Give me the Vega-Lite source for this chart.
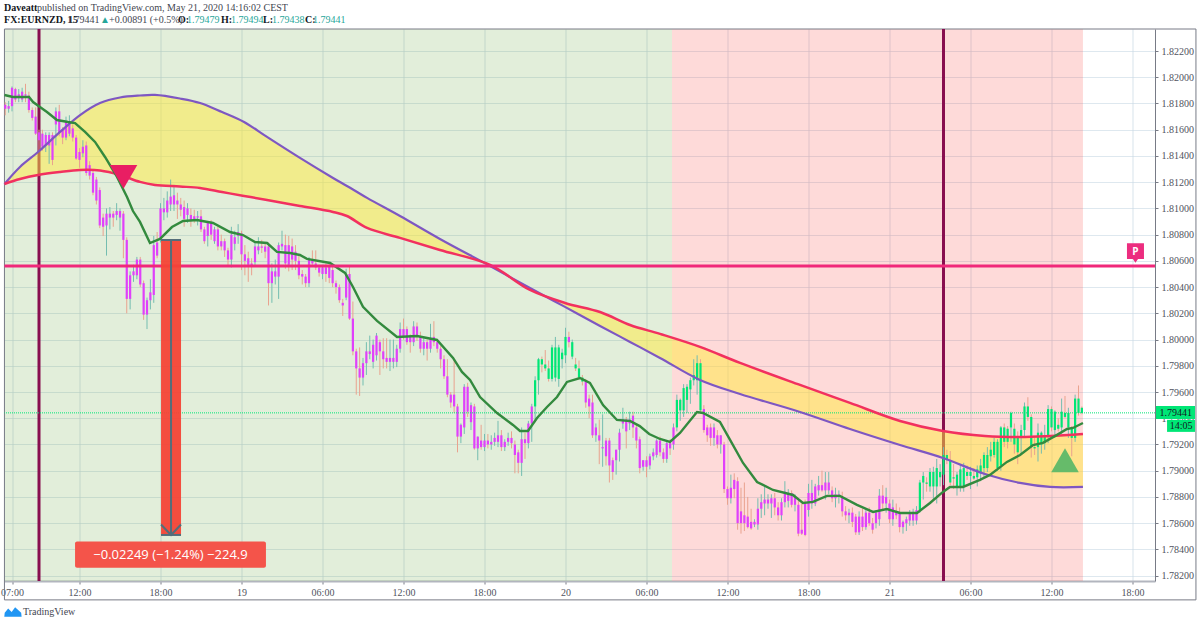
{"$schema":"https://vega.github.io/schema/vega-lite/v6.json","width":1150.5,"height":552,"autosize":{"type":"none"},"padding":{"left":4.5,"top":29,"right":45,"bottom":44},"background":"white","resolve":{"axis":{"x":"independent","y":"independent"}},"config":{"view":{"stroke":null},"text":{"font":"Liberation Sans Narrow"},"axis":{"labelFont":"Liberation Sans Narrow","labelFontSize":10,"labelColor":"#50535e","tickColor":"#787b86","title":null,"gridColor":"#c8d8e4","gridOpacity":0.6,"gridWidth":1.2}},"datasets":{"zones":[{"a":6.44,"b":55.89,"zone":"long"},{"a":55.89,"b":86.33,"zone":"short"}],"marks":[{"t":9},{"t":76}],"band":[{"t":6.44,"red":1.81186,"purple":1.81186},{"t":7.59,"red":1.81224,"purple":1.81316},{"t":8.93,"red":1.81255,"purple":1.8143},{"t":10.56,"red":1.81278,"purple":1.81583},{"t":12.04,"red":1.81293,"purple":1.81712},{"t":13.52,"red":1.81289,"purple":1.81804},{"t":15,"red":1.81255,"purple":1.81846},{"t":16.48,"red":1.81202,"purple":1.81861},{"t":17.59,"red":1.81179,"purple":1.81865},{"t":19.44,"red":1.81167,"purple":1.81838},{"t":20.93,"red":1.81156,"purple":1.81804},{"t":22.56,"red":1.81125,"purple":1.81735},{"t":24.19,"red":1.81095,"purple":1.81659},{"t":25.89,"red":1.81064,"purple":1.81545},{"t":28.33,"red":1.81019,"purple":1.81385},{"t":30.78,"red":1.80973,"purple":1.81232},{"t":31.81,"red":1.80942,"purple":1.81171},{"t":33.3,"red":1.80851,"purple":1.8108},{"t":35.74,"red":1.80775,"purple":1.80942},{"t":38.7,"red":1.80683,"purple":1.80767},{"t":42.41,"red":1.80569,"purple":1.80561},{"t":45.37,"red":1.80378,"purple":1.80393},{"t":47.96,"red":1.80279,"purple":1.80249},{"t":50.56,"red":1.8021,"purple":1.80104},{"t":52.78,"red":1.80111,"purple":1.79982},{"t":55,"red":1.80043,"purple":1.7986},{"t":57.96,"red":1.79944,"purple":1.79692},{"t":60.93,"red":1.79822,"purple":1.79585},{"t":65.37,"red":1.79654,"purple":1.79448},{"t":69.07,"red":1.79517,"purple":1.79318},{"t":72.78,"red":1.79379,"purple":1.79196},{"t":75.96,"red":1.79303,"purple":1.79097},{"t":79.07,"red":1.79265,"purple":1.78975},{"t":81.67,"red":1.79257,"purple":1.78907},{"t":83.89,"red":1.79265,"purple":1.78876},{"t":86.33,"red":1.7928,"purple":1.78876}],"ema":[{"t":6.44,"v":1.81865},{"t":7.07,"v":1.8185},{"t":8.26,"v":1.8185},{"t":8.56,"v":1.81811},{"t":9.07,"v":1.81773},{"t":9.59,"v":1.81735},{"t":10.33,"v":1.81674},{"t":11.15,"v":1.81659},{"t":11.67,"v":1.81651},{"t":12.41,"v":1.81583},{"t":13.15,"v":1.81507},{"t":13.89,"v":1.81392},{"t":14.78,"v":1.8124},{"t":15.52,"v":1.81087},{"t":15.96,"v":1.8098},{"t":16.48,"v":1.80897},{"t":17.22,"v":1.80736},{"t":17.96,"v":1.80767},{"t":18.85,"v":1.80858},{"t":19.67,"v":1.80904},{"t":20.7,"v":1.80912},{"t":21.89,"v":1.80889},{"t":23.15,"v":1.8082},{"t":24.11,"v":1.80797},{"t":25,"v":1.80744},{"t":25.89,"v":1.80736},{"t":26.63,"v":1.80668},{"t":27.59,"v":1.8066},{"t":28.33,"v":1.80645},{"t":28.85,"v":1.80615},{"t":30.56,"v":1.80584},{"t":31.67,"v":1.80508},{"t":32.26,"v":1.80401},{"t":33,"v":1.80249},{"t":34.04,"v":1.80142},{"t":35.52,"v":1.8002},{"t":37,"v":1.80027},{"t":38.48,"v":1.79997},{"t":39.67,"v":1.7986},{"t":40.33,"v":1.79753},{"t":40.93,"v":1.79692},{"t":41.67,"v":1.79562},{"t":42.93,"v":1.7944},{"t":44.11,"v":1.79349},{"t":44.63,"v":1.79303},{"t":45.22,"v":1.79303},{"t":45.89,"v":1.79402},{"t":46.63,"v":1.79486},{"t":47.37,"v":1.79562},{"t":48.11,"v":1.79677},{"t":49.07,"v":1.79707},{"t":49.81,"v":1.79669},{"t":50.78,"v":1.79501},{"t":51.81,"v":1.79387},{"t":52.78,"v":1.79379},{"t":53.5,"v":1.7934},{"t":54.2,"v":1.7928},{"t":55,"v":1.79242},{"t":55.74,"v":1.79219},{"t":56.48,"v":1.79288},{"t":57.74,"v":1.79448},{"t":58.19,"v":1.7944},{"t":59.44,"v":1.79372},{"t":60.19,"v":1.79235},{"t":61.15,"v":1.79059},{"t":62.19,"v":1.78914},{"t":63.37,"v":1.78853},{"t":64.85,"v":1.78815},{"t":65.59,"v":1.78754},{"t":66.33,"v":1.78762},{"t":67.37,"v":1.78808},{"t":68.33,"v":1.78808},{"t":69.59,"v":1.78739},{"t":70.78,"v":1.78686},{"t":71.81,"v":1.78708},{"t":72.78,"v":1.78678},{"t":74.04,"v":1.78678},{"t":75,"v":1.78754},{"t":75.96,"v":1.78838},{"t":76.48,"v":1.78876},{"t":77.44,"v":1.78876},{"t":78.7,"v":1.7893},{"t":79.44,"v":1.78968},{"t":80.7,"v":1.79067},{"t":81.67,"v":1.7912},{"t":82.63,"v":1.79196},{"t":83.37,"v":1.79212},{"t":84.41,"v":1.79273},{"t":85.15,"v":1.79318},{"t":85.59,"v":1.79326},{"t":86.33,"v":1.79364}],"candles":[{"t":6.5,"o":1.8179,"h":1.8181,"l":1.8171,"c":1.8176,"s":"D"},{"t":6.75,"o":1.8176,"h":1.8182,"l":1.8173,"c":1.8178,"s":"D"},{"t":7,"o":1.8178,"h":1.8193,"l":1.8174,"c":1.8192,"s":"D"},{"t":7.25,"o":1.8191,"h":1.8192,"l":1.8181,"c":1.8183,"s":"D"},{"t":7.5,"o":1.8184,"h":1.8191,"l":1.8181,"c":1.8187,"s":"D"},{"t":7.75,"o":1.8183,"h":1.8192,"l":1.8181,"c":1.8189,"s":"D"},{"t":8,"o":1.8187,"h":1.8195,"l":1.8181,"c":1.8186,"s":"D"},{"t":8.25,"o":1.8186,"h":1.8189,"l":1.8173,"c":1.8175,"s":"D"},{"t":8.5,"o":1.8175,"h":1.8177,"l":1.8167,"c":1.8169,"s":"D"},{"t":8.75,"o":1.817,"h":1.8177,"l":1.8156,"c":1.8157,"s":"D"},{"t":9,"o":1.8158,"h":1.816,"l":1.8143,"c":1.8152,"s":"D"},{"t":9.25,"o":1.8157,"h":1.816,"l":1.8144,"c":1.8147,"s":"D"},{"t":9.5,"o":1.8148,"h":1.8158,"l":1.8143,"c":1.8156,"s":"D"},{"t":9.75,"o":1.8148,"h":1.8158,"l":1.8134,"c":1.8156,"s":"D"},{"t":10,"o":1.8156,"h":1.8158,"l":1.8133,"c":1.8137,"s":"D"},{"t":10.25,"o":1.8164,"h":1.8177,"l":1.8148,"c":1.8174,"s":"D"},{"t":10.5,"o":1.8174,"h":1.8179,"l":1.8155,"c":1.8158,"s":"D"},{"t":10.75,"o":1.816,"h":1.8162,"l":1.8149,"c":1.8154,"s":"D"},{"t":11,"o":1.8154,"h":1.817,"l":1.8152,"c":1.8166,"s":"D"},{"t":11.25,"o":1.8157,"h":1.8171,"l":1.8155,"c":1.8166,"s":"D"},{"t":11.5,"o":1.8161,"h":1.8164,"l":1.8151,"c":1.8154,"s":"D"},{"t":11.75,"o":1.8154,"h":1.8156,"l":1.8137,"c":1.8138,"s":"D"},{"t":12,"o":1.8143,"h":1.8146,"l":1.8131,"c":1.8137,"s":"D"},{"t":12.25,"o":1.8142,"h":1.8152,"l":1.8139,"c":1.8147,"s":"D"},{"t":12.5,"o":1.8148,"h":1.8151,"l":1.8125,"c":1.8127,"s":"D"},{"t":12.75,"o":1.8133,"h":1.8136,"l":1.8122,"c":1.8125,"s":"D"},{"t":13,"o":1.8127,"h":1.813,"l":1.811,"c":1.8112,"s":"D"},{"t":13.25,"o":1.8122,"h":1.8124,"l":1.8103,"c":1.8106,"s":"D"},{"t":13.5,"o":1.8114,"h":1.8116,"l":1.8085,"c":1.8087,"s":"D"},{"t":13.75,"o":1.8093,"h":1.8096,"l":1.8079,"c":1.8086,"s":"D"},{"t":14,"o":1.8087,"h":1.81,"l":1.8064,"c":1.8096,"s":"D"},{"t":14.25,"o":1.8093,"h":1.8101,"l":1.8084,"c":1.8096,"s":"D"},{"t":14.5,"o":1.8096,"h":1.8098,"l":1.8086,"c":1.8093,"s":"D"},{"t":14.75,"o":1.8095,"h":1.8104,"l":1.8091,"c":1.8098,"s":"D"},{"t":15,"o":1.8093,"h":1.81,"l":1.8083,"c":1.8098,"s":"D"},{"t":15.25,"o":1.8096,"h":1.8098,"l":1.8062,"c":1.8076,"s":"D"},{"t":15.5,"o":1.8076,"h":1.8078,"l":1.802,"c":1.8031,"s":"D"},{"t":15.75,"o":1.8031,"h":1.8052,"l":1.8023,"c":1.8049,"s":"D"},{"t":16,"o":1.8049,"h":1.8057,"l":1.8044,"c":1.8052,"s":"D"},{"t":16.25,"o":1.8049,"h":1.8063,"l":1.8046,"c":1.8061,"s":"D"},{"t":16.5,"o":1.8061,"h":1.8063,"l":1.804,"c":1.8042,"s":"D"},{"t":16.75,"o":1.8043,"h":1.8045,"l":1.8015,"c":1.8019,"s":"D"},{"t":17,"o":1.8019,"h":1.8032,"l":1.8008,"c":1.803,"s":"D"},{"t":17.25,"o":1.803,"h":1.8046,"l":1.8023,"c":1.8036,"s":"D"},{"t":17.5,"o":1.8034,"h":1.8079,"l":1.8028,"c":1.8072,"s":"D"},{"t":17.75,"o":1.8074,"h":1.8082,"l":1.8062,"c":1.8064,"s":"D"},{"t":18,"o":1.8076,"h":1.8104,"l":1.8074,"c":1.81,"s":"D"},{"t":18.25,"o":1.8097,"h":1.8108,"l":1.8091,"c":1.81,"s":"D"},{"t":18.5,"o":1.8097,"h":1.8113,"l":1.8093,"c":1.8106,"s":"D"},{"t":18.75,"o":1.8103,"h":1.8122,"l":1.8098,"c":1.8109,"s":"D"},{"t":19,"o":1.8103,"h":1.8118,"l":1.8098,"c":1.811,"s":"D"},{"t":19.25,"o":1.8106,"h":1.8112,"l":1.8092,"c":1.8103,"s":"D"},{"t":19.5,"o":1.8103,"h":1.8108,"l":1.8094,"c":1.8099,"s":"D"},{"t":19.75,"o":1.8101,"h":1.8106,"l":1.8086,"c":1.8092,"s":"D"},{"t":20,"o":1.8095,"h":1.8104,"l":1.8089,"c":1.81,"s":"D"},{"t":20.25,"o":1.8095,"h":1.81,"l":1.8086,"c":1.8091,"s":"D"},{"t":20.5,"o":1.8094,"h":1.8099,"l":1.8089,"c":1.8091,"s":"D"},{"t":20.75,"o":1.8093,"h":1.8098,"l":1.8087,"c":1.8094,"s":"D"},{"t":21,"o":1.8094,"h":1.8099,"l":1.8082,"c":1.8084,"s":"D"},{"t":21.25,"o":1.8084,"h":1.8086,"l":1.8073,"c":1.8075,"s":"D"},{"t":21.5,"o":1.8079,"h":1.809,"l":1.8071,"c":1.8089,"s":"D"},{"t":21.75,"o":1.8089,"h":1.8091,"l":1.8076,"c":1.808,"s":"D"},{"t":22,"o":1.8075,"h":1.8086,"l":1.8073,"c":1.8084,"s":"D"},{"t":22.25,"o":1.8084,"h":1.8086,"l":1.8068,"c":1.8071,"s":"D"},{"t":22.5,"o":1.8075,"h":1.808,"l":1.8068,"c":1.8071,"s":"D"},{"t":22.75,"o":1.8075,"h":1.8077,"l":1.8063,"c":1.8068,"s":"D"},{"t":23,"o":1.8068,"h":1.807,"l":1.8056,"c":1.8061,"s":"D"},{"t":23.25,"o":1.8061,"h":1.8086,"l":1.8055,"c":1.808,"s":"D"},{"t":23.5,"o":1.8073,"h":1.8083,"l":1.8068,"c":1.8078,"s":"D"},{"t":23.75,"o":1.8079,"h":1.8088,"l":1.8073,"c":1.8082,"s":"D"},{"t":24,"o":1.8081,"h":1.8083,"l":1.8053,"c":1.8065,"s":"D"},{"t":24.25,"o":1.8065,"h":1.8072,"l":1.8049,"c":1.806,"s":"D"},{"t":24.5,"o":1.8062,"h":1.8067,"l":1.8044,"c":1.8057,"s":"D"},{"t":24.75,"o":1.8058,"h":1.8062,"l":1.8049,"c":1.8056,"s":"D"},{"t":25,"o":1.8059,"h":1.8075,"l":1.8056,"c":1.8071,"s":"D"},{"t":25.25,"o":1.8068,"h":1.8078,"l":1.8065,"c":1.8071,"s":"D"},{"t":25.5,"o":1.8071,"h":1.8076,"l":1.8066,"c":1.807,"s":"D"},{"t":25.75,"o":1.8071,"h":1.8074,"l":1.8062,"c":1.8067,"s":"D"},{"t":26,"o":1.8071,"h":1.8074,"l":1.8026,"c":1.8043,"s":"D"},{"t":26.25,"o":1.8043,"h":1.8058,"l":1.8028,"c":1.8052,"s":"D"},{"t":26.5,"o":1.8048,"h":1.8061,"l":1.8042,"c":1.8052,"s":"D"},{"t":26.75,"o":1.8048,"h":1.8074,"l":1.8031,"c":1.8072,"s":"D"},{"t":27,"o":1.8071,"h":1.8083,"l":1.8068,"c":1.8073,"s":"D"},{"t":27.25,"o":1.8072,"h":1.808,"l":1.8054,"c":1.8058,"s":"D"},{"t":27.5,"o":1.8072,"h":1.8079,"l":1.8052,"c":1.8057,"s":"D"},{"t":27.75,"o":1.8071,"h":1.8077,"l":1.8053,"c":1.8061,"s":"D"},{"t":28,"o":1.8067,"h":1.8072,"l":1.8053,"c":1.806,"s":"D"},{"t":28.25,"o":1.806,"h":1.8064,"l":1.8046,"c":1.8049,"s":"D"},{"t":28.5,"o":1.805,"h":1.8053,"l":1.8042,"c":1.8048,"s":"D"},{"t":28.75,"o":1.8048,"h":1.805,"l":1.804,"c":1.8043,"s":"D"},{"t":29,"o":1.8043,"h":1.8063,"l":1.804,"c":1.8061,"s":"D"},{"t":29.25,"o":1.8061,"h":1.8068,"l":1.8057,"c":1.8058,"s":"D"},{"t":29.5,"o":1.8058,"h":1.8068,"l":1.8053,"c":1.8055,"s":"D"},{"t":29.75,"o":1.8055,"h":1.8057,"l":1.8048,"c":1.8051,"s":"D"},{"t":30,"o":1.805,"h":1.8056,"l":1.8046,"c":1.8055,"s":"D"},{"t":30.25,"o":1.8055,"h":1.8058,"l":1.8044,"c":1.805,"s":"D"},{"t":30.5,"o":1.8056,"h":1.8059,"l":1.8043,"c":1.8047,"s":"D"},{"t":30.75,"o":1.8053,"h":1.8057,"l":1.804,"c":1.8043,"s":"D"},{"t":31,"o":1.8043,"h":1.8045,"l":1.8035,"c":1.804,"s":"D"},{"t":31.25,"o":1.804,"h":1.8042,"l":1.8028,"c":1.803,"s":"D"},{"t":31.5,"o":1.8028,"h":1.8031,"l":1.8018,"c":1.8026,"s":"D"},{"t":31.75,"o":1.8032,"h":1.8054,"l":1.803,"c":1.805,"s":"D"},{"t":32,"o":1.805,"h":1.8056,"l":1.8015,"c":1.8016,"s":"D"},{"t":32.25,"o":1.8016,"h":1.8029,"l":1.7988,"c":1.7991,"s":"D"},{"t":32.5,"o":1.7991,"h":1.7993,"l":1.7958,"c":1.7978,"s":"D"},{"t":32.75,"o":1.7978,"h":1.7994,"l":1.7957,"c":1.7971,"s":"D"},{"t":33,"o":1.7971,"h":1.7986,"l":1.7965,"c":1.7982,"s":"D"},{"t":33.25,"o":1.7982,"h":1.7998,"l":1.7973,"c":1.7991,"s":"D"},{"t":33.5,"o":1.7989,"h":1.8003,"l":1.7985,"c":1.7991,"s":"D"},{"t":33.75,"o":1.7983,"h":1.8,"l":1.7978,"c":1.7996,"s":"D"},{"t":34,"o":1.7988,"h":1.8005,"l":1.7984,"c":1.8003,"s":"D"},{"t":34.25,"o":1.7998,"h":1.8,"l":1.7973,"c":1.7991,"s":"D"},{"t":34.5,"o":1.7991,"h":1.8001,"l":1.7978,"c":1.7985,"s":"D"},{"t":34.75,"o":1.7986,"h":1.8001,"l":1.7978,"c":1.7983,"s":"D"},{"t":35,"o":1.7983,"h":1.8,"l":1.7976,"c":1.7986,"s":"D"},{"t":35.25,"o":1.7983,"h":1.8,"l":1.7978,"c":1.7986,"s":"D"},{"t":35.5,"o":1.7983,"h":1.7996,"l":1.7979,"c":1.7993,"s":"D"},{"t":35.75,"o":1.7993,"h":1.8013,"l":1.799,"c":1.8008,"s":"D"},{"t":36,"o":1.8008,"h":1.8016,"l":1.8,"c":1.8002,"s":"D"},{"t":36.25,"o":1.8008,"h":1.801,"l":1.7996,"c":1.7998,"s":"D"},{"t":36.5,"o":1.8002,"h":1.8004,"l":1.799,"c":1.7998,"s":"D"},{"t":36.75,"o":1.7998,"h":1.8014,"l":1.7995,"c":1.801,"s":"D"},{"t":37,"o":1.801,"h":1.8013,"l":1.7999,"c":1.8002,"s":"D"},{"t":37.25,"o":1.8002,"h":1.8006,"l":1.799,"c":1.7993,"s":"D"},{"t":37.5,"o":1.7993,"h":1.8001,"l":1.7988,"c":1.7998,"s":"D"},{"t":37.75,"o":1.7998,"h":1.8,"l":1.7984,"c":1.7993,"s":"D"},{"t":38,"o":1.7993,"h":1.8012,"l":1.799,"c":1.8001,"s":"D"},{"t":38.25,"o":1.8002,"h":1.8014,"l":1.7995,"c":1.7998,"s":"D"},{"t":38.5,"o":1.7998,"h":1.8,"l":1.799,"c":1.7993,"s":"D"},{"t":38.75,"o":1.7993,"h":1.7995,"l":1.7978,"c":1.7985,"s":"D"},{"t":39,"o":1.7985,"h":1.7988,"l":1.797,"c":1.7972,"s":"D"},{"t":39.25,"o":1.7972,"h":1.7985,"l":1.7956,"c":1.7958,"s":"D"},{"t":39.5,"o":1.7958,"h":1.796,"l":1.7948,"c":1.7952,"s":"D"},{"t":39.75,"o":1.7958,"h":1.7985,"l":1.7944,"c":1.7949,"s":"D"},{"t":40,"o":1.7949,"h":1.7951,"l":1.7914,"c":1.7926,"s":"D"},{"t":40.25,"o":1.7926,"h":1.7936,"l":1.7921,"c":1.7935,"s":"D"},{"t":40.5,"o":1.7933,"h":1.7966,"l":1.7928,"c":1.7964,"s":"D"},{"t":40.75,"o":1.7964,"h":1.7967,"l":1.7941,"c":1.7945,"s":"D"},{"t":41,"o":1.7937,"h":1.7952,"l":1.7931,"c":1.795,"s":"D"},{"t":41.25,"o":1.7949,"h":1.7951,"l":1.7916,"c":1.7917,"s":"D"},{"t":41.5,"o":1.7917,"h":1.7926,"l":1.7908,"c":1.7926,"s":"D"},{"t":41.75,"o":1.7923,"h":1.7935,"l":1.7916,"c":1.7918,"s":"D"},{"t":42,"o":1.7918,"h":1.7928,"l":1.7915,"c":1.7923,"s":"D"},{"t":42.25,"o":1.7923,"h":1.7928,"l":1.7917,"c":1.792,"s":"D"},{"t":42.5,"o":1.792,"h":1.7927,"l":1.7916,"c":1.7922,"s":"D"},{"t":42.75,"o":1.7922,"h":1.7929,"l":1.7919,"c":1.7925,"s":"D"},{"t":43,"o":1.7922,"h":1.7938,"l":1.7918,"c":1.7927,"s":"D"},{"t":43.25,"o":1.7927,"h":1.7931,"l":1.7915,"c":1.7918,"s":"D"},{"t":43.5,"o":1.7918,"h":1.7924,"l":1.7915,"c":1.7922,"s":"D"},{"t":43.75,"o":1.7922,"h":1.7929,"l":1.7919,"c":1.7925,"s":"D"},{"t":44,"o":1.7925,"h":1.793,"l":1.7917,"c":1.7921,"s":"D"},{"t":44.25,"o":1.792,"h":1.7923,"l":1.7898,"c":1.7912,"s":"D"},{"t":44.5,"o":1.7914,"h":1.7916,"l":1.7898,"c":1.7906,"s":"D"},{"t":44.75,"o":1.7906,"h":1.7933,"l":1.7896,"c":1.7924,"s":"D"},{"t":45,"o":1.7924,"h":1.7929,"l":1.7909,"c":1.7921,"s":"D"},{"t":45.25,"o":1.7921,"h":1.7938,"l":1.7917,"c":1.7936,"s":"D"},{"t":45.5,"o":1.7936,"h":1.7951,"l":1.7922,"c":1.7949,"s":"D"},{"t":45.75,"o":1.7949,"h":1.7972,"l":1.7937,"c":1.7969,"s":"U"},{"t":46,"o":1.7969,"h":1.7986,"l":1.7958,"c":1.7985,"s":"U"},{"t":46.25,"o":1.7985,"h":1.7987,"l":1.7975,"c":1.7981,"s":"U"},{"t":46.5,"o":1.7981,"h":1.7992,"l":1.7976,"c":1.7978,"s":"U"},{"t":46.75,"o":1.7978,"h":1.7984,"l":1.7968,"c":1.797,"s":"U"},{"t":47,"o":1.797,"h":1.7996,"l":1.7968,"c":1.7994,"s":"U"},{"t":47.25,"o":1.7971,"h":1.8002,"l":1.7968,"c":1.7994,"s":"U"},{"t":47.5,"o":1.797,"h":1.7996,"l":1.7964,"c":1.7994,"s":"U"},{"t":47.75,"o":1.7985,"h":1.7993,"l":1.7978,"c":1.799,"s":"U"},{"t":48,"o":1.7988,"h":1.8009,"l":1.7982,"c":1.8002,"s":"U"},{"t":48.25,"o":1.8002,"h":1.8006,"l":1.7994,"c":1.7998,"s":"D"},{"t":48.5,"o":1.7987,"h":1.8,"l":1.7985,"c":1.7998,"s":"U"},{"t":48.75,"o":1.7981,"h":1.7986,"l":1.7976,"c":1.7978,"s":"U"},{"t":49,"o":1.7978,"h":1.7984,"l":1.797,"c":1.7971,"s":"U"},{"t":49.25,"o":1.7971,"h":1.7973,"l":1.7965,"c":1.7968,"s":"U"},{"t":49.5,"o":1.7968,"h":1.797,"l":1.7948,"c":1.7952,"s":"D"},{"t":49.75,"o":1.7955,"h":1.7958,"l":1.794,"c":1.7949,"s":"D"},{"t":50,"o":1.7952,"h":1.7958,"l":1.7925,"c":1.7927,"s":"D"},{"t":50.25,"o":1.7927,"h":1.7936,"l":1.7922,"c":1.7933,"s":"D"},{"t":50.5,"o":1.7927,"h":1.7939,"l":1.7905,"c":1.7923,"s":"D"},{"t":50.75,"o":1.7917,"h":1.7943,"l":1.7903,"c":1.7918,"s":"D"},{"t":51,"o":1.7923,"h":1.7925,"l":1.7904,"c":1.7911,"s":"D"},{"t":51.25,"o":1.7923,"h":1.7925,"l":1.7891,"c":1.7904,"s":"D"},{"t":51.5,"o":1.7908,"h":1.791,"l":1.7893,"c":1.7899,"s":"D"},{"t":51.75,"o":1.7908,"h":1.7916,"l":1.7897,"c":1.7916,"s":"D"},{"t":52,"o":1.7916,"h":1.7932,"l":1.7907,"c":1.7929,"s":"D"},{"t":52.25,"o":1.7936,"h":1.7948,"l":1.7932,"c":1.7939,"s":"D"},{"t":52.5,"o":1.7939,"h":1.7941,"l":1.7917,"c":1.793,"s":"D"},{"t":52.75,"o":1.7936,"h":1.7945,"l":1.7931,"c":1.7939,"s":"D"},{"t":53,"o":1.7942,"h":1.7945,"l":1.7925,"c":1.7933,"s":"D"},{"t":53.25,"o":1.7933,"h":1.7935,"l":1.7917,"c":1.7923,"s":"D"},{"t":53.5,"o":1.7924,"h":1.7926,"l":1.7898,"c":1.7902,"s":"D"},{"t":53.75,"o":1.7903,"h":1.7908,"l":1.79,"c":1.7908,"s":"D"},{"t":54,"o":1.7908,"h":1.7911,"l":1.7895,"c":1.7903,"s":"D"},{"t":54.25,"o":1.7904,"h":1.7913,"l":1.7901,"c":1.7911,"s":"D"},{"t":54.5,"o":1.7911,"h":1.7917,"l":1.7908,"c":1.7914,"s":"D"},{"t":54.75,"o":1.7912,"h":1.7924,"l":1.791,"c":1.7923,"s":"D"},{"t":55,"o":1.7923,"h":1.7926,"l":1.7911,"c":1.7914,"s":"D"},{"t":55.25,"o":1.7914,"h":1.7917,"l":1.7906,"c":1.7909,"s":"D"},{"t":55.5,"o":1.7909,"h":1.7923,"l":1.7906,"c":1.7921,"s":"D"},{"t":55.75,"o":1.7921,"h":1.7924,"l":1.7912,"c":1.7917,"s":"D"},{"t":56,"o":1.792,"h":1.7936,"l":1.7916,"c":1.7933,"s":"D"},{"t":56.25,"o":1.7933,"h":1.7958,"l":1.793,"c":1.7954,"s":"U"},{"t":56.5,"o":1.7946,"h":1.7955,"l":1.7938,"c":1.7954,"s":"U"},{"t":56.75,"o":1.7946,"h":1.7966,"l":1.7941,"c":1.7963,"s":"U"},{"t":57,"o":1.7954,"h":1.7966,"l":1.7944,"c":1.7964,"s":"U"},{"t":57.25,"o":1.7962,"h":1.7971,"l":1.7951,"c":1.7969,"s":"U"},{"t":57.5,"o":1.7969,"h":1.7985,"l":1.7965,"c":1.7973,"s":"U"},{"t":57.75,"o":1.7969,"h":1.7988,"l":1.7958,"c":1.7982,"s":"U"},{"t":58,"o":1.7982,"h":1.7985,"l":1.7945,"c":1.7946,"s":"U"},{"t":58.25,"o":1.7947,"h":1.795,"l":1.7929,"c":1.7931,"s":"D"},{"t":58.5,"o":1.7933,"h":1.7935,"l":1.7922,"c":1.7927,"s":"D"},{"t":58.75,"o":1.7933,"h":1.7936,"l":1.7919,"c":1.7925,"s":"D"},{"t":59,"o":1.7925,"h":1.7936,"l":1.7919,"c":1.7933,"s":"D"},{"t":59.25,"o":1.7927,"h":1.7931,"l":1.7917,"c":1.792,"s":"D"},{"t":59.5,"o":1.792,"h":1.7927,"l":1.7913,"c":1.7927,"s":"D"},{"t":59.75,"o":1.792,"h":1.7922,"l":1.7883,"c":1.7886,"s":"D"},{"t":60,"o":1.7886,"h":1.7888,"l":1.7874,"c":1.7879,"s":"D"},{"t":60.25,"o":1.7879,"h":1.7897,"l":1.7875,"c":1.7887,"s":"D"},{"t":60.5,"o":1.7893,"h":1.7898,"l":1.7879,"c":1.7886,"s":"D"},{"t":60.75,"o":1.7892,"h":1.7895,"l":1.7855,"c":1.786,"s":"D"},{"t":61,"o":1.7869,"h":1.7887,"l":1.7852,"c":1.786,"s":"D"},{"t":61.25,"o":1.7866,"h":1.7891,"l":1.7854,"c":1.786,"s":"D"},{"t":61.5,"o":1.7865,"h":1.788,"l":1.7856,"c":1.7857,"s":"D"},{"t":61.75,"o":1.7861,"h":1.7871,"l":1.7855,"c":1.7856,"s":"D"},{"t":62,"o":1.7859,"h":1.7863,"l":1.7857,"c":1.7861,"s":"D"},{"t":62.25,"o":1.7859,"h":1.7879,"l":1.7855,"c":1.7871,"s":"D"},{"t":62.5,"o":1.7871,"h":1.7882,"l":1.7864,"c":1.7876,"s":"D"},{"t":62.75,"o":1.7875,"h":1.7888,"l":1.7866,"c":1.7878,"s":"D"},{"t":63,"o":1.7875,"h":1.7882,"l":1.7871,"c":1.7878,"s":"D"},{"t":63.25,"o":1.7875,"h":1.7882,"l":1.7864,"c":1.7879,"s":"D"},{"t":63.5,"o":1.7879,"h":1.7883,"l":1.7866,"c":1.7872,"s":"D"},{"t":63.75,"o":1.7872,"h":1.7876,"l":1.7862,"c":1.7866,"s":"D"},{"t":64,"o":1.7866,"h":1.7879,"l":1.7862,"c":1.7876,"s":"D"},{"t":64.25,"o":1.7876,"h":1.7892,"l":1.7872,"c":1.7884,"s":"D"},{"t":64.5,"o":1.7877,"h":1.7886,"l":1.7872,"c":1.7883,"s":"D"},{"t":64.75,"o":1.7883,"h":1.7885,"l":1.7872,"c":1.7874,"s":"D"},{"t":65,"o":1.7874,"h":1.7882,"l":1.7869,"c":1.788,"s":"D"},{"t":65.25,"o":1.7874,"h":1.7877,"l":1.785,"c":1.7852,"s":"D"},{"t":65.5,"o":1.7855,"h":1.7875,"l":1.7851,"c":1.7852,"s":"D"},{"t":65.75,"o":1.7875,"h":1.7878,"l":1.785,"c":1.7851,"s":"D"},{"t":66,"o":1.787,"h":1.789,"l":1.7865,"c":1.7883,"s":"D"},{"t":66.25,"o":1.7875,"h":1.7893,"l":1.7871,"c":1.7883,"s":"D"},{"t":66.5,"o":1.7875,"h":1.789,"l":1.7873,"c":1.7888,"s":"D"},{"t":66.75,"o":1.7885,"h":1.7896,"l":1.7881,"c":1.7889,"s":"D"},{"t":67,"o":1.7889,"h":1.79,"l":1.7884,"c":1.7885,"s":"D"},{"t":67.25,"o":1.7885,"h":1.7899,"l":1.7878,"c":1.7891,"s":"D"},{"t":67.5,"o":1.7885,"h":1.7899,"l":1.7882,"c":1.7891,"s":"D"},{"t":67.75,"o":1.7885,"h":1.7888,"l":1.7876,"c":1.7879,"s":"D"},{"t":68,"o":1.7879,"h":1.7887,"l":1.7872,"c":1.7882,"s":"D"},{"t":68.25,"o":1.788,"h":1.7885,"l":1.7875,"c":1.7882,"s":"D"},{"t":68.5,"o":1.788,"h":1.7884,"l":1.7865,"c":1.7869,"s":"D"},{"t":68.75,"o":1.7869,"h":1.7873,"l":1.7862,"c":1.7866,"s":"D"},{"t":69,"o":1.7866,"h":1.7871,"l":1.786,"c":1.7868,"s":"D"},{"t":69.25,"o":1.7868,"h":1.7872,"l":1.7857,"c":1.7861,"s":"D"},{"t":69.5,"o":1.7865,"h":1.7867,"l":1.7851,"c":1.7853,"s":"D"},{"t":69.75,"o":1.7853,"h":1.7869,"l":1.7851,"c":1.7865,"s":"D"},{"t":70,"o":1.7865,"h":1.7871,"l":1.7854,"c":1.7857,"s":"D"},{"t":70.25,"o":1.7857,"h":1.787,"l":1.7855,"c":1.7868,"s":"D"},{"t":70.5,"o":1.7868,"h":1.7872,"l":1.7858,"c":1.786,"s":"D"},{"t":70.75,"o":1.786,"h":1.7864,"l":1.7852,"c":1.7855,"s":"D"},{"t":71,"o":1.786,"h":1.787,"l":1.7856,"c":1.7868,"s":"D"},{"t":71.25,"o":1.7863,"h":1.7886,"l":1.7858,"c":1.7881,"s":"D"},{"t":71.5,"o":1.7881,"h":1.7889,"l":1.787,"c":1.7875,"s":"D"},{"t":71.75,"o":1.7875,"h":1.7887,"l":1.7868,"c":1.788,"s":"D"},{"t":72,"o":1.7875,"h":1.7878,"l":1.786,"c":1.7863,"s":"D"},{"t":72.25,"o":1.7863,"h":1.7878,"l":1.7858,"c":1.7872,"s":"D"},{"t":72.5,"o":1.7868,"h":1.7875,"l":1.7863,"c":1.7866,"s":"D"},{"t":72.75,"o":1.7868,"h":1.7872,"l":1.7853,"c":1.7857,"s":"D"},{"t":73,"o":1.7857,"h":1.7862,"l":1.7852,"c":1.7861,"s":"D"},{"t":73.25,"o":1.786,"h":1.7865,"l":1.7854,"c":1.7863,"s":"D"},{"t":73.5,"o":1.7862,"h":1.787,"l":1.7858,"c":1.7868,"s":"D"},{"t":73.75,"o":1.7862,"h":1.7871,"l":1.7858,"c":1.7868,"s":"D"},{"t":74,"o":1.7862,"h":1.7873,"l":1.7859,"c":1.787,"s":"D"},{"t":74.25,"o":1.787,"h":1.7893,"l":1.7868,"c":1.7891,"s":"U"},{"t":74.5,"o":1.7891,"h":1.7899,"l":1.7878,"c":1.7896,"s":"U"},{"t":74.75,"o":1.7891,"h":1.7895,"l":1.7884,"c":1.789,"s":"U"},{"t":75,"o":1.7888,"h":1.7902,"l":1.7884,"c":1.7899,"s":"U"},{"t":75.25,"o":1.7888,"h":1.7903,"l":1.7877,"c":1.7899,"s":"U"},{"t":75.5,"o":1.7888,"h":1.7909,"l":1.7875,"c":1.7902,"s":"U"},{"t":75.75,"o":1.7895,"h":1.7905,"l":1.7888,"c":1.7899,"s":"U"},{"t":76,"o":1.7897,"h":1.7918,"l":1.7889,"c":1.7912,"s":"U"},{"t":76.25,"o":1.7912,"h":1.7916,"l":1.7905,"c":1.7908,"s":"U"},{"t":76.5,"o":1.7908,"h":1.7915,"l":1.7889,"c":1.7891,"s":"U"},{"t":76.75,"o":1.7895,"h":1.7905,"l":1.7886,"c":1.7894,"s":"U"},{"t":77,"o":1.7888,"h":1.7899,"l":1.7881,"c":1.7897,"s":"U"},{"t":77.25,"o":1.7888,"h":1.7905,"l":1.7884,"c":1.7901,"s":"U"},{"t":77.5,"o":1.7888,"h":1.7906,"l":1.7884,"c":1.7902,"s":"U"},{"t":77.75,"o":1.7899,"h":1.7904,"l":1.7893,"c":1.7896,"s":"U"},{"t":78,"o":1.7896,"h":1.7903,"l":1.7886,"c":1.7899,"s":"U"},{"t":78.25,"o":1.7896,"h":1.7902,"l":1.7893,"c":1.7894,"s":"U"},{"t":78.5,"o":1.7895,"h":1.7904,"l":1.7888,"c":1.7901,"s":"U"},{"t":78.75,"o":1.7898,"h":1.7909,"l":1.7892,"c":1.7904,"s":"U"},{"t":79,"o":1.7902,"h":1.7914,"l":1.7895,"c":1.7912,"s":"U"},{"t":79.25,"o":1.7902,"h":1.7918,"l":1.7899,"c":1.7912,"s":"U"},{"t":79.5,"o":1.7911,"h":1.7922,"l":1.7907,"c":1.7916,"s":"U"},{"t":79.75,"o":1.7912,"h":1.7925,"l":1.791,"c":1.7922,"s":"U"},{"t":80,"o":1.7902,"h":1.7924,"l":1.79,"c":1.7922,"s":"U"},{"t":80.25,"o":1.7904,"h":1.7934,"l":1.79,"c":1.7933,"s":"U"},{"t":80.5,"o":1.7933,"h":1.7936,"l":1.7918,"c":1.7922,"s":"U"},{"t":80.75,"o":1.7932,"h":1.7934,"l":1.7917,"c":1.7922,"s":"U"},{"t":81,"o":1.7933,"h":1.7945,"l":1.7922,"c":1.7944,"s":"U"},{"t":81.25,"o":1.7932,"h":1.7936,"l":1.7913,"c":1.792,"s":"U"},{"t":81.5,"o":1.7925,"h":1.793,"l":1.7905,"c":1.7914,"s":"U"},{"t":81.75,"o":1.7925,"h":1.7935,"l":1.7912,"c":1.7931,"s":"U"},{"t":82,"o":1.7931,"h":1.7952,"l":1.7925,"c":1.7949,"s":"U"},{"t":82.25,"o":1.7949,"h":1.7956,"l":1.7938,"c":1.7941,"s":"U"},{"t":82.5,"o":1.7941,"h":1.7943,"l":1.791,"c":1.7918,"s":"U"},{"t":82.75,"o":1.7918,"h":1.7925,"l":1.7912,"c":1.7917,"s":"U"},{"t":83,"o":1.7918,"h":1.7936,"l":1.7907,"c":1.7929,"s":"U"},{"t":83.25,"o":1.792,"h":1.793,"l":1.7913,"c":1.7929,"s":"U"},{"t":83.5,"o":1.7921,"h":1.7935,"l":1.7916,"c":1.7927,"s":"U"},{"t":83.75,"o":1.7927,"h":1.795,"l":1.7921,"c":1.7947,"s":"U"},{"t":84,"o":1.7947,"h":1.7949,"l":1.793,"c":1.7933,"s":"U"},{"t":84.25,"o":1.7931,"h":1.7946,"l":1.7925,"c":1.7945,"s":"U"},{"t":84.5,"o":1.7935,"h":1.794,"l":1.793,"c":1.7932,"s":"U"},{"t":84.75,"o":1.7933,"h":1.7955,"l":1.7928,"c":1.7945,"s":"U"},{"t":85,"o":1.7944,"h":1.7957,"l":1.794,"c":1.7941,"s":"U"},{"t":85.25,"o":1.7933,"h":1.7948,"l":1.7925,"c":1.7944,"s":"U"},{"t":85.5,"o":1.7933,"h":1.7934,"l":1.7911,"c":1.7925,"s":"U"},{"t":85.75,"o":1.7925,"h":1.7958,"l":1.7922,"c":1.7955,"s":"U"},{"t":86,"o":1.7955,"h":1.7965,"l":1.7942,"c":1.7944,"s":"U"},{"t":86.25,"o":1.7948,"h":1.7949,"l":1.7943,"c":1.7944,"s":"U"}],"measure":[{"t1":18.04,"t2":19.52,"v1":1.7851,"v2":1.80759,"t":18.78}],"chevron":[{"t":18.04,"v":1.7859},{"t":18.78,"v":1.7851},{"t":19.52,"v":1.7859}],"box":[{"t1":11.67,"t2":25.81,"v1":1.7826,"v2":1.7846,"t":18.74,"v":1.7836,"label":"−0.02249 (−1.24%) −224.9"}],"signals":[{"t":15.26,"v":1.8124,"side":"sell"},{"t":85,"v":1.7908,"side":"buy"}],"pivot":[{"t":90.22,"v":1.8067,"label":"P"}],"tags":[{"t1":91.74,"t2":94.63,"v1":1.79394,"v2":1.79494,"t":93.2,"v":1.79441,"label":"1.79441"},{"t1":92.56,"t2":94.63,"v1":1.79296,"v2":1.79388,"t":93.6,"v":1.7934,"label":"14:05"}],"frame":[{"t1":6.44,"t2":94.7,"v1":1.78015,"v2":1.82368}],"notes":[{"t":6.41,"v":1.82528,"kind":"bold","label":"Daveatt"},{"t":8.85,"v":1.82528,"kind":"plain","label":"published on TradingView.com, May 21, 2020 14:16:02 CEST"},{"t":6.41,"v":1.82436,"kind":"bold","label":"FX:EURNZD, 15"},{"t":11.07,"v":1.82436,"kind":"plain","label":"1.79441"},{"t":13.52,"v":1.82436,"kind":"value","label":"▲"},{"t":14.19,"v":1.82436,"kind":"plain","label":"+0.00891 (+0.5%)"},{"t":19.3,"v":1.82436,"kind":"bold","label":"O:"},{"t":19.96,"v":1.82436,"kind":"value","label":"1.79479"},{"t":22.48,"v":1.82436,"kind":"bold","label":"H:"},{"t":23.22,"v":1.82436,"kind":"value","label":"1.79494"},{"t":25.59,"v":1.82436,"kind":"bold","label":"L:"},{"t":26.26,"v":1.82436,"kind":"value","label":"1.79438"},{"t":28.7,"v":1.82436,"kind":"bold","label":"C:"},{"t":29.3,"v":1.82436,"kind":"value","label":"1.79441"},{"t":7.81,"v":1.77923,"kind":"plain","label":"TradingView"}],"logo":[{"t":7.07,"v":1.77923}]},"layer":[{"data":{"name":"zones"},"mark":{"type":"rect","opacity":0.2},"encoding":{"x":{"field":"a","type":"quantitative","scale":{"domain":[6.444,91.667],"nice":false,"zero":false},"axis":{"values":[7,12,18,24,30,36,42,48,54,60,66,72,78,84,90],"labelExpr":"datum.value%24==0?''+(18+datum.value/24):(datum.value%24<10?'0':'')+(datum.value%24)+':00'","grid":true,"domainColor":"#b2b5be","domainWidth":2,"tickSize":3,"labelPadding":3,"labelFlush":false}},"x2":{"field":"b"},"color":{"condition":{"test":"datum.zone=='long'","value":"#6eaa46"},"value":"#fa4641"}}},{"data":{"name":"frame"},"mark":{"type":"rect","fill":null,"stroke":"#787b86","strokeWidth":1},"encoding":{"x":{"field":"t1","type":"quantitative","scale":{"domain":[6.444,91.667],"nice":false,"zero":false},"axis":null},"x2":{"field":"t2"},"y":{"field":"v1","type":"quantitative","scale":{"domain":[1.78159,1.82368],"nice":false,"zero":false},"axis":{"orient":"right","values":[1.782,1.784,1.786,1.788,1.79,1.792,1.794,1.796,1.798,1.8,1.802,1.804,1.806,1.808,1.81,1.812,1.814,1.816,1.818,1.82,1.822],"format":".5f","grid":true,"domainColor":"#787b86","tickSize":3,"labelPadding":3}},"y2":{"field":"v2"}}},{"data":{"name":"marks"},"mark":{"type":"rule","stroke":"#880e4f","strokeWidth":3},"encoding":{"x":{"field":"t","type":"quantitative","scale":{"domain":[6.444,91.667],"nice":false,"zero":false},"axis":null}}},{"data":{"name":"band"},"mark":{"type":"area","fill":"#ffea3e","opacity":0.5,"interpolate":"catmull-rom"},"encoding":{"x":{"field":"t","type":"quantitative","scale":{"domain":[6.444,91.667],"nice":false,"zero":false},"axis":null},"y":{"field":"red","type":"quantitative","scale":{"domain":[1.78159,1.82368],"nice":false,"zero":false},"axis":null},"y2":{"field":"purple"}}},{"data":{"name":"candles"},"mark":{"type":"rule","strokeWidth":1},"encoding":{"x":{"field":"t","type":"quantitative","scale":{"domain":[6.444,91.667],"nice":false,"zero":false},"axis":null},"y":{"field":"l","type":"quantitative","scale":{"domain":[1.78159,1.82368],"nice":false,"zero":false},"axis":null},"y2":{"field":"h"},"color":{"condition":{"test":"datum.c>=datum.o","value":"#74bdb0"},"value":"#e9a28e"}}},{"data":{"name":"candles"},"mark":{"type":"rule","strokeWidth":2.2},"encoding":{"x":{"field":"t","type":"quantitative","scale":{"domain":[6.444,91.667],"nice":false,"zero":false},"axis":null},"y":{"field":"o","type":"quantitative","scale":{"domain":[1.78159,1.82368],"nice":false,"zero":false},"axis":null},"y2":{"field":"c"},"color":{"field":"s","type":"nominal","scale":{"domain":["D","U"],"range":["#e040fb","#00e676"]},"legend":null}}},{"data":{"values":[{"v":1.79441}]},"mark":{"type":"rule","stroke":"#00e676","strokeWidth":1,"strokeDash":[1,1]},"encoding":{"y":{"field":"v","type":"quantitative","scale":{"domain":[1.78159,1.82368],"nice":false,"zero":false},"axis":null}}},{"data":{"name":"band"},"mark":{"type":"line","stroke":"#7e57c2","strokeWidth":2.2,"interpolate":"catmull-rom"},"encoding":{"x":{"field":"t","type":"quantitative","scale":{"domain":[6.444,91.667],"nice":false,"zero":false},"axis":null},"y":{"field":"purple","type":"quantitative","scale":{"domain":[1.78159,1.82368],"nice":false,"zero":false},"axis":null}}},{"data":{"name":"band"},"mark":{"type":"line","stroke":"#f2305f","strokeWidth":2.5,"interpolate":"catmull-rom"},"encoding":{"x":{"field":"t","type":"quantitative","scale":{"domain":[6.444,91.667],"nice":false,"zero":false},"axis":null},"y":{"field":"red","type":"quantitative","scale":{"domain":[1.78159,1.82368],"nice":false,"zero":false},"axis":null}}},{"data":{"name":"ema"},"mark":{"type":"line","stroke":"#338a3e","strokeWidth":2.4},"encoding":{"x":{"field":"t","type":"quantitative","scale":{"domain":[6.444,91.667],"nice":false,"zero":false},"axis":null},"y":{"field":"v","type":"quantitative","scale":{"domain":[1.78159,1.82368],"nice":false,"zero":false},"axis":null}}},{"data":{"values":[{"v":1.8056}]},"mark":{"type":"rule","stroke":"#f0287a","strokeWidth":3},"encoding":{"y":{"field":"v","type":"quantitative","scale":{"domain":[1.78159,1.82368],"nice":false,"zero":false},"axis":null}}},{"data":{"name":"measure"},"mark":{"type":"rect","fill":"#f44336","opacity":0.95},"encoding":{"x":{"field":"t1","type":"quantitative","scale":{"domain":[6.444,91.667],"nice":false,"zero":false},"axis":null},"x2":{"field":"t2"},"y":{"field":"v1","type":"quantitative","scale":{"domain":[1.78159,1.82368],"nice":false,"zero":false},"axis":null},"y2":{"field":"v2"}}},{"data":{"name":"measure"},"mark":{"type":"rule","stroke":"#546e7a","strokeWidth":2},"encoding":{"x":{"field":"t","type":"quantitative","scale":{"domain":[6.444,91.667],"nice":false,"zero":false},"axis":null},"y":{"field":"v1","type":"quantitative","scale":{"domain":[1.78159,1.82368],"nice":false,"zero":false},"axis":null},"y2":{"field":"v2"}}},{"data":{"name":"measure"},"mark":{"type":"rule","stroke":"#546e7a","strokeWidth":2},"encoding":{"x":{"field":"t1","type":"quantitative","scale":{"domain":[6.444,91.667],"nice":false,"zero":false},"axis":null},"x2":{"field":"t2"},"y":{"field":"v1","type":"quantitative","scale":{"domain":[1.78159,1.82368],"nice":false,"zero":false},"axis":null}}},{"data":{"name":"measure"},"mark":{"type":"rule","stroke":"#546e7a","strokeWidth":2},"encoding":{"x":{"field":"t1","type":"quantitative","scale":{"domain":[6.444,91.667],"nice":false,"zero":false},"axis":null},"x2":{"field":"t2"},"y":{"field":"v2","type":"quantitative","scale":{"domain":[1.78159,1.82368],"nice":false,"zero":false},"axis":null}}},{"data":{"name":"chevron"},"mark":{"type":"line","stroke":"#546e7a","strokeWidth":2},"encoding":{"x":{"field":"t","type":"quantitative","scale":{"domain":[6.444,91.667],"nice":false,"zero":false},"axis":null},"y":{"field":"v","type":"quantitative","scale":{"domain":[1.78159,1.82368],"nice":false,"zero":false},"axis":null}}},{"data":{"name":"signals"},"mark":{"type":"point","filled":true,"opacity":1,"size":760},"encoding":{"x":{"field":"t","type":"quantitative","scale":{"domain":[6.444,91.667],"nice":false,"zero":false},"axis":null},"y":{"field":"v","type":"quantitative","scale":{"domain":[1.78159,1.82368],"nice":false,"zero":false},"axis":null},"shape":{"field":"side","type":"nominal","scale":{"domain":["sell","buy"],"range":["triangle-down","triangle-up"]},"legend":null},"fill":{"field":"side","type":"nominal","scale":{"domain":["sell","buy"],"range":["#e91e63","#66bb6a"]},"legend":null},"stroke":{"value":null}}},{"data":{"name":"box"},"mark":{"type":"rect","fill":"#f4544a","cornerRadius":2},"encoding":{"x":{"field":"t1","type":"quantitative","scale":{"domain":[6.444,91.667],"nice":false,"zero":false},"axis":null},"x2":{"field":"t2"},"y":{"field":"v1","type":"quantitative","scale":{"domain":[1.78159,1.82368],"nice":false,"zero":false},"axis":null},"y2":{"field":"v2"}}},{"data":{"name":"box"},"mark":{"type":"text","color":"white","fontSize":13,"fontWeight":500,"font":"Open Sans"},"encoding":{"x":{"field":"t","type":"quantitative","scale":{"domain":[6.444,91.667],"nice":false,"zero":false},"axis":null},"y":{"field":"v","type":"quantitative","scale":{"domain":[1.78159,1.82368],"nice":false,"zero":false},"axis":null},"text":{"field":"label"}}},{"data":{"name":"pivot"},"mark":{"type":"point","filled":true,"opacity":1,"size":289,"shape":"M-1,-1 H1 V0.85 H0.3 L0,1.3 L-0.3,0.85 H-1 Z","fill":"#ec2d7f","stroke":null},"encoding":{"x":{"field":"t","type":"quantitative","scale":{"domain":[6.444,91.667],"nice":false,"zero":false},"axis":null},"y":{"field":"v","type":"quantitative","scale":{"domain":[1.78159,1.82368],"nice":false,"zero":false},"axis":null}}},{"data":{"name":"pivot"},"mark":{"type":"text","color":"white","fontSize":10,"fontWeight":"bold","font":"Open Sans"},"encoding":{"x":{"field":"t","type":"quantitative","scale":{"domain":[6.444,91.667],"nice":false,"zero":false},"axis":null},"y":{"field":"v","type":"quantitative","scale":{"domain":[1.78159,1.82368],"nice":false,"zero":false},"axis":null},"text":{"field":"label"}}},{"data":{"name":"tags"},"mark":{"type":"rect","fill":"#00e676"},"encoding":{"x":{"field":"t1","type":"quantitative","scale":{"domain":[6.444,91.667],"nice":false,"zero":false},"axis":null},"x2":{"field":"t2"},"y":{"field":"v1","type":"quantitative","scale":{"domain":[1.78159,1.82368],"nice":false,"zero":false},"axis":null},"y2":{"field":"v2"}}},{"data":{"name":"tags"},"mark":{"type":"text","color":"#131722","fontSize":10},"encoding":{"x":{"field":"t","type":"quantitative","scale":{"domain":[6.444,91.667],"nice":false,"zero":false},"axis":null},"y":{"field":"v","type":"quantitative","scale":{"domain":[1.78159,1.82368],"nice":false,"zero":false},"axis":null},"text":{"field":"label"}}},{"data":{"name":"notes"},"transform":[{"filter":"datum.kind=='bold'"}],"mark":{"type":"text","align":"left","color":"#131722","fontSize":10,"fontWeight":"bold"},"encoding":{"x":{"field":"t","type":"quantitative","scale":{"domain":[6.444,91.667],"nice":false,"zero":false},"axis":null},"y":{"field":"v","type":"quantitative","scale":{"domain":[1.78159,1.82368],"nice":false,"zero":false},"axis":null},"text":{"field":"label"}}},{"data":{"name":"notes"},"transform":[{"filter":"datum.kind=='plain'"}],"mark":{"type":"text","align":"left","color":"#434651","fontSize":10},"encoding":{"x":{"field":"t","type":"quantitative","scale":{"domain":[6.444,91.667],"nice":false,"zero":false},"axis":null},"y":{"field":"v","type":"quantitative","scale":{"domain":[1.78159,1.82368],"nice":false,"zero":false},"axis":null},"text":{"field":"label"}}},{"data":{"name":"notes"},"transform":[{"filter":"datum.kind=='value'"}],"mark":{"type":"text","align":"left","color":"#26a69a","fontSize":10},"encoding":{"x":{"field":"t","type":"quantitative","scale":{"domain":[6.444,91.667],"nice":false,"zero":false},"axis":null},"y":{"field":"v","type":"quantitative","scale":{"domain":[1.78159,1.82368],"nice":false,"zero":false},"axis":null},"text":{"field":"label"}}},{"data":{"name":"logo"},"mark":{"type":"point","filled":true,"opacity":1,"size":300,"shape":"M-1,0.55 L-0.95,0.1 L-0.55,-0.4 L-0.15,0 L0.25,-0.55 L0.95,0.1 L1,0.55 Z","fill":"#2196f3","stroke":null},"encoding":{"x":{"field":"t","type":"quantitative","scale":{"domain":[6.444,91.667],"nice":false,"zero":false},"axis":null},"y":{"field":"v","type":"quantitative","scale":{"domain":[1.78159,1.82368],"nice":false,"zero":false},"axis":null}}}]}
